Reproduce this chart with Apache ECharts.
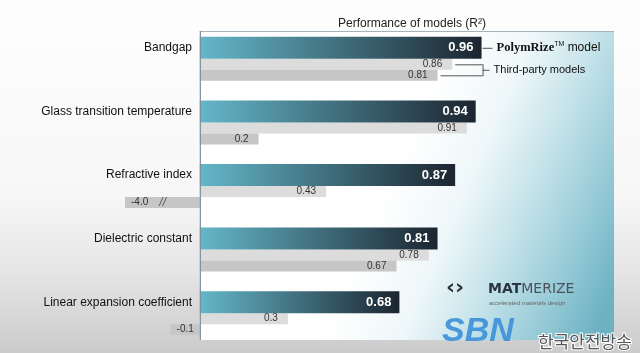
<!DOCTYPE html>
<html>
<head>
<meta charset="utf-8">
<script src="https://cdn.jsdelivr.net/npm/echarts@6/dist/echarts.min.js"></script>
<style>
html, body { margin: 0; padding: 0; }
#main {
  width: 640px; height: 353px;
  background: linear-gradient(to bottom, #fefefe 0%, #f7f7f7 55%, #e4e4e4 78%, #cbcbcb 100%);
}
</style>
</head>
<body>
<div id="main"></div>
<script>
// data
var categories = [
  "Bandgap",
  "Glass transition temperature",
  "Refractive index",
  "Dielectric constant",
  "Linear expansion coefficient"
];
var polymrize = [0.96, 0.94, 0.87, 0.81, 0.68];
var thirdPartyA = [0.86, 0.91, 0.43, 0.78, 0.3];
var thirdPartyB = [0.81, 0.2, -4.0, 0.67, -0.1];

var axisMin = -0.255;
var axisMax = 1.2;

var chart = echarts.init(document.getElementById("main"), null, { renderer: "canvas" });

function fmt(v) {
  return Number.isInteger(v) ? v.toFixed(1) : String(v);
}

// negative bars: label on the left; off-scale bar gets a break mark
function greyItem(v) {
  var item = { value: Math.max(v, axisMin), raw: v };
  if (v < axisMin) {
    item.label = {
      position: "insideLeft",
      distance: 6,
      formatter: "{v|" + fmt(v) + "}    {b|//}"
    };
  } else if (v < 0) {
    item.label = { position: "inside" };
  }
  return item;
}

var greyLabel = {
  show: true,
  position: "insideRight",
  distance: 10,
  fontFamily: "Liberation Sans",
  fontSize: 10,
  color: "#333",
  formatter: function (p) { return fmt(p.data.raw); },
  rich: {
    v: { fontFamily: "Liberation Sans", fontSize: 10, color: "#333" },
    b: { fontFamily: "Liberation Sans", fontSize: 12, color: "#555", fontStyle: "italic" }
  }
};

var option = {
  animation: false,
  title: {
    text: "Performance of models (R²)",
    left: 407,
    textAlign: "center",
    top: 13,
    textStyle: { fontFamily: "Liberation Sans", fontSize: 12, fontWeight: "normal", color: "#222" }
  },
  grid: { left: 125, top: 27, width: 427, height: 318, containLabel: false, outerBoundsMode: "none" },
  xAxis: {
    type: "value",
    min: axisMin,
    max: axisMax,
    show: false,
    splitLine: { show: false }
  },
  yAxis: {
    type: "category",
    inverse: true,
    data: categories,
    axisLine: { show: false },
    axisTick: { show: false },
    axisLabel: {
      fontFamily: "Liberation Sans",
      fontSize: 12,
      color: "#111",
      margin: -67,
      verticalAlign: "bottom",
      lineHeight: 22
    }
  },
  series: [
    {
      name: "PolymRize model",
      type: "bar",
      barWidth: 22,
      barGap: "0%",
      data: polymrize,
      z: 3,
      itemStyle: {
        color: new echarts.graphic.LinearGradient(0, 0, 1, 0, [
          { offset: 0, color: "#64b7c9" },
          { offset: 1, color: "#1c2530" }
        ])
      },
      label: {
        show: true,
        position: "insideRight",
        distance: 8,
        fontFamily: "Liberation Sans",
        fontSize: 13,
        fontWeight: "bold",
        color: "#fff",
        formatter: function (p) { return p.value.toFixed(2); }
      }
    },
    {
      name: "Third-party A",
      type: "bar",
      barWidth: 11,
      barGap: "0%",
      data: thirdPartyA.map(greyItem),
      itemStyle: { color: "#dcdcdc" },
      label: greyLabel
    },
    {
      name: "Third-party B",
      type: "bar",
      barWidth: 11,
      barGap: "0%",
      data: thirdPartyB.map(greyItem),
      itemStyle: { color: "#c6c6c6" },
      label: greyLabel
    }
  ]
};

chart.setOption(option);

// annotations placed through the chart's own scales
var px = function (v, i) { return chart.convertToPixel({ gridIndex: 0 }, [v, i]); };
var x0 = px(0, 0)[0];
var cy = px(0, 0)[1];
var mainEnd = px(polymrize[0], 0)[0];
var aEnd = px(thirdPartyA[0], 0)[0];
var bEnd = px(thirdPartyB[0], 0)[0];
var yMain = cy - 11, yA = cy + 5.5, yB = cy + 16.5;
var bx = mainEnd + 1;
var panelTop = 31, panelBottom = 340, panelRight = 614;
var lineStyle = { stroke: "#555", lineWidth: 1 };

chart.setOption({
  graphic: [
    {
      type: "rect", z: -10, silent: true,
      shape: { x: x0, y: panelTop, width: panelRight - x0, height: panelBottom - panelTop },
      style: {
        fill: new echarts.graphic.LinearGradient(395, 165, 625, 265, [
          { offset: 0, color: "#ffffff" },
          { offset: 0.3, color: "#eef7f9" },
          { offset: 0.55, color: "#c3e2e9" },
          { offset: 0.8, color: "#94c9d6" },
          { offset: 1, color: "#6cb2c3" }
        ], true)
      }
    },
    {
      type: "line", z: -9, silent: true,
      shape: { x1: x0, y1: panelTop + 0.5, x2: panelRight, y2: panelTop + 0.5 },
      style: { stroke: "#a7b3ba", lineWidth: 1 }
    },
    {
      type: "line", z: 5, silent: true,
      shape: { x1: x0 + 0.5, y1: panelTop, x2: x0 + 0.5, y2: panelBottom },
      style: { stroke: "#7d8e9b", lineWidth: 1.2 }
    },
    // PolymRize connector
    { type: "line", shape: { x1: mainEnd + 1, y1: yMain + 0.5, x2: mainEnd + 11, y2: yMain + 0.5 }, style: lineStyle },
    {
      type: "text", x: mainEnd + 15, y: yMain,
      style: {
        text: "{p|PolymRize}{t|TM}{m| model}",
        verticalAlign: "middle",
        rich: {
          p: { fontFamily: "Liberation Serif", fontWeight: "bold", fontSize: 12.5, fill: "#111" },
          t: { fontFamily: "Liberation Sans", fontSize: 7, fill: "#111", verticalAlign: "top", padding: [0, 0, 8, 0] },
          m: { fontFamily: "Liberation Sans", fontSize: 12, fill: "#111" }
        }
      }
    },
    // third-party bracket
    { type: "line", shape: { x1: aEnd + 3, y1: yA + 0.5, x2: bx, y2: yA + 0.5 }, style: lineStyle },
    { type: "line", shape: { x1: bEnd + 3, y1: yB + 0.5, x2: bx, y2: yB + 0.5 }, style: lineStyle },
    { type: "line", shape: { x1: bx + 0.5, y1: yA, x2: bx + 0.5, y2: yB + 1 }, style: lineStyle },
    { type: "line", shape: { x1: bx, y1: (yA + yB) / 2 + 0.5, x2: bx + 7, y2: (yA + yB) / 2 + 0.5 }, style: lineStyle },
    {
      type: "text", x: bx + 11, y: (yA + yB) / 2,
      style: { text: "Third-party models", fontFamily: "Liberation Sans", fontSize: 11, fill: "#111", verticalAlign: "middle" }
    },
    // broadcast watermarks
    {
      type: "text", x: 446, y: 288, z: 20,
      style: { text: "‹›", fontFamily: "DejaVu Sans", fontWeight: "bold", fontSize: 22, fill: "#2b3440", verticalAlign: "middle" }
    },
    {
      type: "text", x: 488, y: 289, z: 20,
      style: {
        text: "{a|MAT}{b|MERIZE}",
        verticalAlign: "middle",
        rich: {
          a: { fontFamily: "DejaVu Sans", fontWeight: "bold", fontSize: 14, fill: "#2b3440" },
          b: { fontFamily: "DejaVu Sans", fontWeight: "normal", fontSize: 14, fill: "#4a525c" }
        }
      }
    },
    {
      type: "text", x: 489, y: 303, z: 20,
      style: { text: "accelerated materials design", fontFamily: "Liberation Sans", fontStyle: "italic", fontSize: 6, fill: "#666", verticalAlign: "middle" }
    },
    {
      type: "text", x: 442, y: 332, z: 21,
      style: { text: "SBN", fontFamily: "Liberation Sans", fontWeight: "bold", fontStyle: "italic", fontSize: 34, fill: "#3c8fd8", verticalAlign: "middle", opacity: 0.9 }
    },
    {
      type: "text", x: 538, y: 342, z: 21,
      style: { text: "한국안전방송", fontFamily: "Noto Sans CJK KR", fontSize: 17, fill: "#555", stroke: "#fff", lineWidth: 2, verticalAlign: "middle" }
    }
  ]
});
</script>
</body>
</html>
